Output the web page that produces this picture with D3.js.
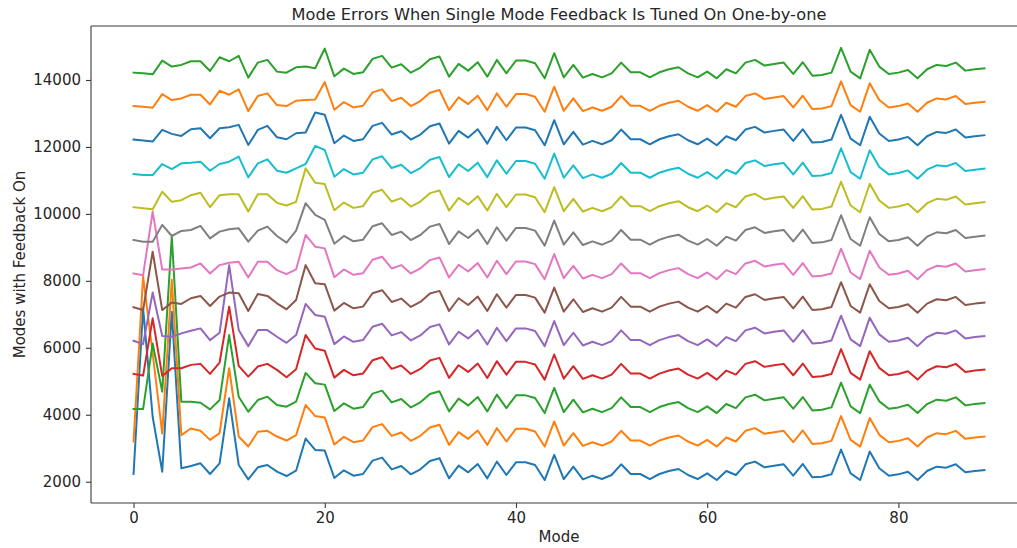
<!DOCTYPE html>
<html>
<head>
<meta charset="utf-8">
<script src="https://cdn.jsdelivr.net/npm/d3@7/dist/d3.min.js"></script>
<style>
  html, body { margin: 0; padding: 0; background: #ffffff; }
  svg { display: block; font-family: "DejaVu Sans", sans-serif; }
</style>
</head>
<body>
<svg id="chart" width="1017" height="548"></svg>
<script>
// Mode index 0..89
const modes = d3.range(0, 90);

// Mode errors for each feedback setting (one line per setting)
const errors0 = [
  2230,7180,3940,2300,7080,2400,2470,2550,2230,2550,
  4490,2500,2070,2430,2500,2300,2170,2330,3290,2950,
  2930,2110,2340,2180,2230,2630,2720,2370,2470,2220,
  2370,2620,2700,2100,2480,2280,2530,2100,2600,2200,
  2580,2580,2500,2050,2800,2080,2450,2070,2180,2080,
  2200,2520,2230,2230,2080,2230,2320,2380,2200,2080,
  2250,2050,2320,2200,2520,2600,2430,2480,2520,2180,
  2530,2130,2150,2220,2960,2250,2050,2900,2400,2180,
  2220,2300,2050,2320,2450,2420,2520,2280,2320,2350];
const errors1 = [
  3200,8130,5830,3440,8030,3390,3590,3520,3250,3450,
  5390,3350,3050,3490,3520,3350,3230,3390,4290,3960,
  3920,3110,3340,3180,3230,3630,3720,3370,3470,3220,
  3370,3620,3700,3100,3480,3280,3530,3100,3600,3200,
  3580,3580,3500,3050,3800,3080,3450,3070,3180,3080,
  3200,3520,3230,3230,3080,3230,3320,3380,3200,3080,
  3250,3050,3320,3200,3520,3600,3430,3480,3520,3180,
  3530,3130,3150,3220,3960,3250,3050,3900,3400,3180,
  3220,3300,3050,3320,3450,3420,3520,3280,3320,3350];
const errors2 = [
  4170,4170,6130,4690,9320,4390,4390,4360,4160,4440,
  6380,4540,4090,4440,4540,4290,4240,4390,5250,4940,
  4900,4110,4340,4180,4230,4630,4720,4370,4470,4220,
  4370,4620,4700,4100,4480,4280,4530,4100,4600,4200,
  4580,4580,4500,4050,4800,4080,4450,4070,4180,4080,
  4200,4520,4230,4230,4080,4230,4320,4380,4200,4080,
  4250,4050,4320,4200,4520,4600,4430,4480,4520,4180,
  4530,4130,4150,4220,4960,4250,4050,4900,4400,4180,
  4220,4300,4050,4320,4450,4420,4520,4280,4320,4350];
const errors3 = [
  5220,5170,6880,5160,5390,5390,5490,5520,5220,5560,
  7230,5460,5140,5440,5520,5340,5120,5360,6380,5980,
  5910,5110,5340,5180,5230,5630,5720,5370,5470,5220,
  5370,5620,5700,5100,5480,5280,5530,5100,5600,5200,
  5580,5580,5500,5050,5800,5080,5450,5070,5180,5080,
  5200,5520,5230,5230,5080,5230,5320,5380,5200,5080,
  5250,5050,5320,5200,5520,5600,5430,5480,5520,5180,
  5530,5130,5150,5220,5960,5250,5050,5900,5400,5180,
  5220,5300,5050,5320,5450,5420,5520,5280,5320,5350];
const errors4 = [
  6210,6110,7650,6350,6330,6430,6510,6580,6230,6450,
  8470,6530,6050,6530,6530,6330,6150,6380,7310,6980,
  6930,6110,6340,6180,6230,6630,6720,6370,6470,6220,
  6370,6620,6700,6100,6480,6280,6530,6100,6600,6200,
  6580,6580,6500,6050,6800,6080,6450,6070,6180,6080,
  6200,6520,6230,6230,6080,6230,6320,6380,6200,6080,
  6250,6050,6320,6200,6520,6600,6430,6480,6520,6180,
  6530,6130,6150,6220,6960,6250,6050,6900,6400,6180,
  6220,6300,6050,6320,6450,6420,6520,6280,6320,6350];
const errors5 = [
  7210,7130,8870,7130,7350,7310,7480,7550,7250,7530,
  7650,7630,7100,7610,7550,7330,7150,7430,8470,7930,
  7900,7110,7340,7180,7230,7630,7720,7370,7470,7220,
  7370,7620,7700,7100,7480,7280,7530,7100,7600,7200,
  7580,7580,7500,7050,7800,7080,7450,7070,7180,7080,
  7200,7520,7230,7230,7080,7230,7320,7380,7200,7080,
  7250,7050,7320,7200,7520,7600,7430,7480,7520,7180,
  7530,7130,7150,7220,7960,7250,7050,7900,7400,7180,
  7220,7300,7050,7320,7450,7420,7520,7280,7320,7350];
const errors6 = [
  8220,8170,10070,8340,8340,8370,8400,8520,8220,8470,
  8540,8570,8100,8570,8570,8320,8200,8340,9370,9020,
  8970,8110,8340,8180,8230,8630,8720,8370,8470,8220,
  8370,8620,8700,8100,8480,8280,8530,8100,8600,8200,
  8580,8580,8500,8050,8800,8080,8450,8070,8180,8080,
  8200,8520,8230,8230,8080,8230,8320,8380,8200,8080,
  8250,8050,8320,8200,8520,8600,8430,8480,8520,8180,
  8530,8130,8150,8220,8960,8250,8050,8900,8400,8180,
  8220,8300,8050,8320,8450,8420,8520,8280,8320,8350];
const errors7 = [
  9220,9170,9170,9670,9340,9490,9520,9640,9270,9470,
  9540,9570,9170,9500,9620,9340,9140,9500,10320,9970,
  9820,9110,9340,9180,9230,9630,9720,9370,9470,9220,
  9370,9620,9700,9100,9480,9280,9530,9100,9600,9200,
  9580,9580,9500,9050,9800,9080,9450,9070,9180,9080,
  9200,9520,9230,9230,9080,9230,9320,9380,9200,9080,
  9250,9050,9320,9200,9520,9600,9430,9480,9520,9180,
  9530,9130,9150,9220,9960,9250,9050,9900,9400,9180,
  9220,9300,9050,9320,9450,9420,9520,9280,9320,9350];
const errors8 = [
  10200,10170,10140,10660,10360,10410,10560,10630,10200,10560,
  10590,10590,10070,10590,10590,10330,10250,10360,11360,10930,
  10890,10110,10340,10180,10230,10630,10720,10370,10470,10220,
  10370,10620,10700,10100,10480,10280,10530,10100,10600,10200,
  10580,10580,10500,10050,10800,10080,10450,10070,10180,10080,
  10200,10520,10230,10230,10080,10230,10320,10380,10200,10080,
  10250,10050,10320,10200,10520,10600,10430,10480,10520,10180,
  10530,10130,10150,10220,10960,10250,10050,10900,10400,10180,
  10220,10300,10050,10320,10450,10420,10520,10280,10320,10350];
const errors9 = [
  11190,11160,11160,11490,11340,11510,11530,11560,11290,11490,
  11560,11710,11090,11510,11630,11290,11230,11360,11490,12030,
  11910,11110,11340,11180,11230,11630,11720,11370,11470,11220,
  11370,11620,11700,11100,11480,11280,11530,11100,11600,11200,
  11580,11580,11500,11050,11800,11080,11450,11070,11180,11080,
  11200,11520,11230,11230,11080,11230,11320,11380,11200,11080,
  11250,11050,11320,11200,11520,11600,11430,11480,11520,11180,
  11530,11130,11150,11220,11960,11250,11050,11900,11400,11180,
  11220,11300,11050,11320,11450,11420,11520,11280,11320,11350];
const errors10 = [
  12220,12190,12160,12510,12390,12330,12530,12560,12260,12560,
  12590,12660,12060,12510,12630,12290,12230,12410,12430,13030,
  12960,12110,12340,12180,12230,12630,12720,12370,12470,12220,
  12370,12620,12700,12100,12480,12280,12530,12100,12600,12200,
  12580,12580,12500,12050,12800,12080,12450,12070,12180,12080,
  12200,12520,12230,12230,12080,12230,12320,12380,12200,12080,
  12250,12050,12320,12200,12520,12600,12430,12480,12520,12180,
  12530,12130,12150,12220,12960,12250,12050,12900,12400,12180,
  12220,12300,12050,12320,12450,12420,12520,12280,12320,12350];
const errors11 = [
  13220,13200,13170,13580,13400,13450,13560,13560,13270,13680,
  13560,13720,13070,13520,13600,13250,13220,13380,13400,13420,
  13940,13110,13340,13180,13230,13630,13720,13370,13470,13220,
  13370,13620,13700,13100,13480,13280,13530,13100,13600,13200,
  13580,13580,13500,13050,13800,13080,13450,13070,13180,13080,
  13200,13520,13230,13230,13080,13230,13320,13380,13200,13080,
  13250,13050,13320,13200,13520,13600,13430,13480,13520,13180,
  13530,13130,13150,13220,13960,13250,13050,13900,13400,13180,
  13220,13300,13050,13320,13450,13420,13520,13280,13320,13350];
const errors12 = [
  14220,14200,14170,14580,14400,14450,14560,14560,14270,14680,
  14560,14720,14070,14520,14600,14250,14220,14380,14400,14350,
  14940,14110,14340,14180,14230,14630,14720,14370,14470,14220,
  14370,14620,14700,14100,14480,14280,14530,14100,14600,14200,
  14580,14580,14500,14050,14800,14080,14450,14070,14180,14080,
  14200,14520,14230,14230,14080,14230,14320,14380,14200,14080,
  14250,14050,14320,14200,14520,14600,14430,14480,14520,14180,
  14530,14130,14150,14220,14960,14250,14050,14900,14400,14180,
  14220,14300,14050,14320,14450,14420,14520,14280,14320,14350];

const allSeries = [errors0, errors1, errors2, errors3, errors4, errors5, errors6,
                   errors7, errors8, errors9, errors10, errors11, errors12];

// Matplotlib "tab10" cycle
const palette = ["#1f77b4", "#ff7f0e", "#2ca02c", "#d62728", "#9467bd",
                 "#8c564b", "#e377c2", "#7f7f7f", "#bcbd22", "#17becf"];

const xTicks = [0, 20, 40, 60, 80];
const yTicks = [2000, 4000, 6000, 8000, 10000, 12000, 14000];

const titleText = "Mode Errors When Single Mode Feedback Is Tuned On One-by-one";
const xLabel = "Mode";
const yLabel = "Modes with Feedback On";

// Plot frame (right edge runs past the canvas)
const frame = { left: 91, right: 1027, top: 26, bottom: 503 };

const svg = d3.select("#chart");

const x = d3.scaleLinear().domain([-4.45, 93.45]).range([frame.left, frame.right]);
const y = d3.scaleLinear().domain([1364, 15613]).range([frame.bottom, frame.top]);

const line = d3.line()
  .x((d, i) => x(modes[i]))
  .y(d => y(d));

// Lines
const plot = svg.append("g");
allSeries.forEach((vals, k) => {
  plot.append("path")
    .datum(vals)
    .attr("fill", "none")
    .attr("stroke", palette[k % palette.length])
    .attr("stroke-width", 2)
    .attr("stroke-linejoin", "round")
    .attr("stroke-linecap", "square")
    .attr("d", line);
});

// Frame spines
const spineColor = "#3a3a3a";
const spines = svg.append("g").attr("stroke", spineColor).attr("stroke-width", 1.1);
spines.append("line").attr("x1", frame.left).attr("x2", frame.right + 1).attr("y1", frame.top).attr("y2", frame.top);
spines.append("line").attr("x1", frame.left).attr("x2", frame.right + 1).attr("y1", frame.bottom).attr("y2", frame.bottom);
spines.append("line").attr("x1", frame.left).attr("x2", frame.left).attr("y1", frame.top).attr("y2", frame.bottom);
spines.append("line").attr("x1", frame.right).attr("x2", frame.right).attr("y1", frame.top).attr("y2", frame.bottom);

// Axes
const fontSize = "15px";
const xAxis = svg.append("g")
  .attr("transform", `translate(0,${frame.bottom})`)
  .call(d3.axisBottom(x).tickValues(xTicks).tickFormat(d3.format("d")).tickSize(5).tickSizeOuter(0).tickPadding(4));
const yAxis = svg.append("g")
  .attr("transform", `translate(${frame.left},0)`)
  .call(d3.axisLeft(y).tickValues(yTicks).tickFormat(d3.format("d")).tickSize(5).tickSizeOuter(0).tickPadding(5));

[xAxis, yAxis].forEach(a => {
  a.select(".domain").remove();
  a.selectAll(".tick line").attr("stroke", spineColor).attr("stroke-width", 1.1);
  a.selectAll(".tick text")
    .attr("fill", "#262626")
    .style("font-family", "'DejaVu Sans', sans-serif")
    .style("font-size", fontSize);
});

// Title and axis labels
svg.append("text")
  .attr("x", (frame.left + frame.right) / 2)
  .attr("y", 19.5)
  .attr("text-anchor", "middle")
  .attr("fill", "#262626")
  .style("font-size", "16.2px")
  .text(titleText);

svg.append("text")
  .attr("x", (frame.left + frame.right) / 2)
  .attr("y", 542)
  .attr("text-anchor", "middle")
  .attr("fill", "#262626")
  .style("font-size", fontSize)
  .text(xLabel);

svg.append("text")
  .attr("transform", `translate(25,${(frame.top + frame.bottom) / 2}) rotate(-90)`)
  .attr("text-anchor", "middle")
  .attr("fill", "#262626")
  .style("font-size", fontSize)
  .text(yLabel);
</script>
</body>
</html>
